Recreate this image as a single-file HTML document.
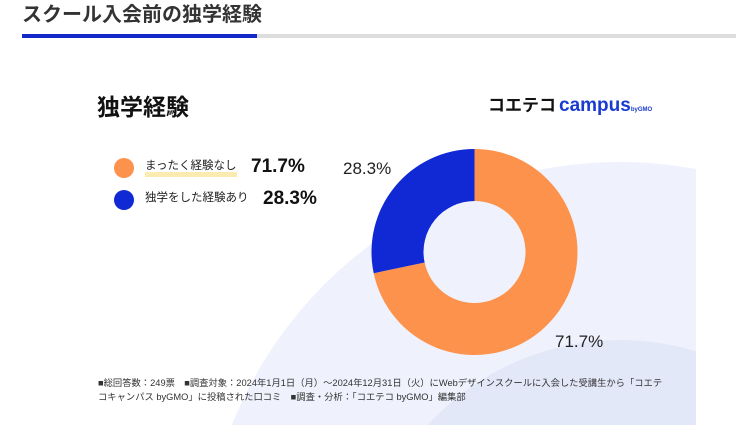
<!DOCTYPE html>
<html><head><meta charset="utf-8"><style>
html,body{margin:0;width:736px;height:437px;overflow:hidden}
body{background:#fff;font-family:"Liberation Sans","Noto Sans CJK JP",sans-serif;position:relative}
.a{position:absolute;white-space:nowrap;line-height:1.2}
</style></head><body>
<div class="a" style="left:22px;top:3px;font-size:20px;font-weight:bold;color:#333">スクール入会前の独学経験</div>
<div class="a" style="left:22px;top:34px;width:714px;height:4px;background:#ddd"></div>
<div class="a" style="left:22px;top:34px;width:235px;height:4px;background:#1428c8"></div>
<svg class="a" style="left:0;top:0" width="736" height="437">
<defs><clipPath id="c"><rect x="80" y="60" width="616" height="365"/></clipPath></defs>
<g clip-path="url(#c)">
<circle cx="620" cy="580" r="418" fill="#eff2fc"/>
<circle cx="620" cy="600" r="260" fill="#e3e8f8"/>
</g>
<path d="M474.5 149 A103 103 0 1 1 373.7 273.2 L424.6 262.5 A51 51 0 1 0 474.5 201 Z" fill="#fd924c"/>
<path d="M373.7 273.2 A103 103 0 0 1 474.5 149 L474.5 201 A51 51 0 0 0 424.6 262.5 Z" fill="#1029d4"/>
<circle cx="124" cy="168" r="10" fill="#fd924c"/>
<circle cx="124" cy="200" r="10" fill="#1029d4"/>
<rect x="145" y="172" width="92" height="5" fill="#fcebb0"/>
</svg>
<div class="a" style="left:97px;top:94px;font-size:23px;font-weight:bold;color:#111">独学経験</div>
<div class="a" style="left:488px;top:95px;font-size:17px;font-weight:bold;color:#111">コエテコ<span style="color:#1a3bd0;font-size:19px;margin-left:3px">campus</span><span style="color:#1a3bd0;font-size:6px">byGMO</span></div>
<div class="a" style="left:145px;top:160px;font-size:11.5px;color:#222">まったく経験なし</div>
<div class="a" style="left:251px;top:156px;font-size:19px;font-weight:bold;color:#111">71.7%</div>
<div class="a" style="left:145px;top:192px;font-size:11.5px;color:#222">独学をした経験あり</div>
<div class="a" style="left:263px;top:188px;font-size:19px;font-weight:bold;color:#111">28.3%</div>
<div class="a" style="left:343px;top:159px;font-size:17px;color:#222">28.3%</div>
<div class="a" style="left:555px;top:332px;font-size:17px;color:#222">71.7%</div>
<div class="a" style="left:98px;top:376px;font-size:9.3px;color:#333;line-height:14px">■総回答数：249票　■調査対象：2024年1月1日（月）～2024年12月31日（火）にWebデザインスクールに入会した受講生から「コエテ<br>コキャンパス byGMO」に投稿された口コミ　■調査・分析：「コエテコ byGMO」編集部</div>
</body></html>
